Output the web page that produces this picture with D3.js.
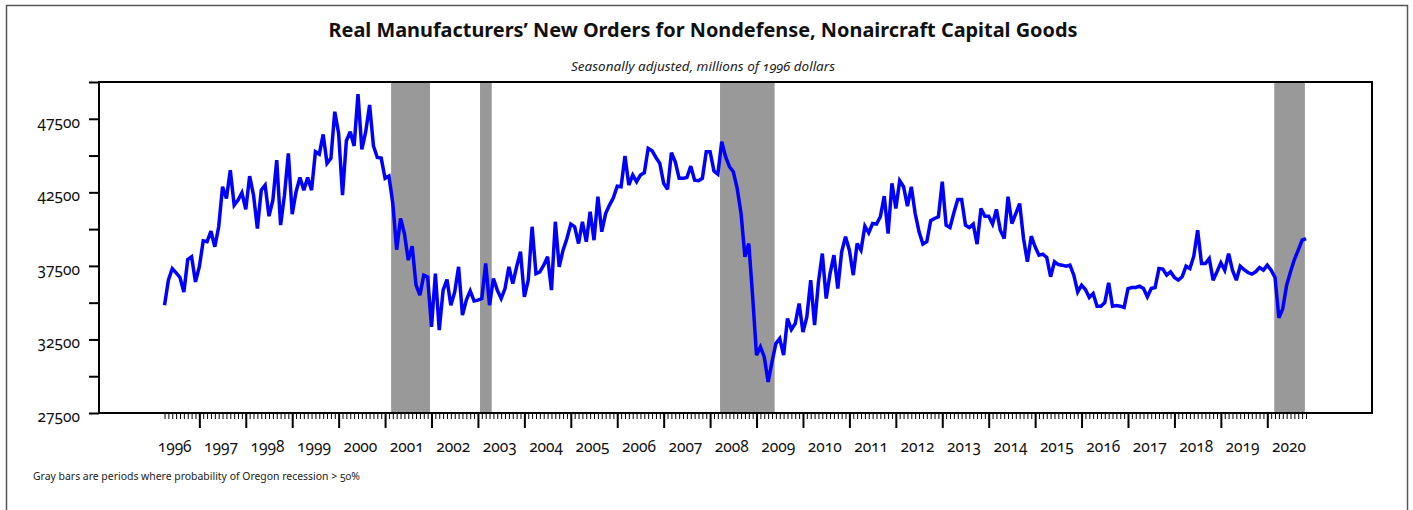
<!DOCTYPE html>
<html><head><meta charset="utf-8">
<script src="https://cdn.jsdelivr.net/npm/d3@7"></script>
<style>
body{margin:0;background:#fff;}
svg text{font-family:"Noto Sans",sans-serif;font-variant-numeric:oldstyle-nums;font-feature-settings:"onum" 1;}
</style></head>
<body>
<svg id="chart" width="1413" height="510"></svg>
<script>
// ---- data ----
const titleText = "Real Manufacturers\u2019 New Orders for Nondefense, Nonaircraft Capital Goods";
const subtitleText = "Seasonally adjusted, millions of 1996 dollars";
const noteText = "Gray bars are periods where probability of Oregon recession > 50%";

const startYear = 1996;      // first observation: April 1996
const startMonth = 3;        // 0 = January
const orders = [
 34830,36530,37320,37030,36710,35730,37930,38120,36410,37440,39200,39140,
 39860,38800,40160,42880,42080,44010,41630,41970,42470,41340,43600,42310,
 40040,42650,42990,40880,41970,44690,40270,42310,45150,41020,42540,43510,
 42650,43510,42650,45260,45100,46440,44470,44810,47980,46510,42310,46010,
 46620,45650,49180,45420,46620,48440,45650,44870,44830,43450,43600,41740,
 38600,40720,39700,37890,38840,36190,35510,36870,36750,33350,36980,33130,
 35850,36570,34830,35730,37440,34150,35170,35800,35120,35170,35280,37660,
 34830,36640,35850,35280,35960,37440,36300,37440,38460,35390,36530,40160,
 36980,37100,37550,38120,35850,40500,37440,38570,39360,40340,40160,39020,
 40500,39140,41180,39250,42200,39820,41060,41630,42130,42920,42880,44970,
 42990,43670,43220,43670,43830,45490,45330,44870,44470,43110,42700,45190,
 44580,43450,43450,43510,44280,43330,43290,43450,45260,45260,43950,43740,
 45940,44920,44240,43900,42770,41060,38120,39020,35390,31430,31990,31310,
 29610,30970,32220,32560,31430,33920,33170,33580,34940,33010,34030,36530,
 33470,36410,38340,35280,36980,38230,35960,38460,39480,38570,36870,39020,
 38570,40200,39750,40380,40340,40840,42240,39700,43110,41400,43290,42880,
 41560,42880,41060,39820,38980,39140,40570,40720,40840,43220,40270,40110,
 41110,42020,42020,40270,40110,40340,38980,41400,40880,40880,40340,41340,
 39930,39360,42200,40380,41060,41740,39360,37780,39520,38800,38230,38300,
 38070,36760,37780,37590,37550,37480,37550,36870,35730,36190,35890,35350,
 35620,34760,34760,35010,36350,34760,34800,34760,34670,35960,36030,36030,
 36120,35960,35390,35960,36030,37320,37280,36870,37100,36710,36530,36760,
 37480,37320,38160,39930,37660,37660,38000,36530,37100,37710,37210,38340,
 37210,36530,37480,37250,37050,36940,37100,37390,37210,37550,37210,36710,
 33970,34600,36190,37100,37930,38570,39250,39360
];
// recession periods (fractional years)
const recessionStart = [2001.13, 2003.045, 2008.214, 2020.15];
const recessionEnd   = [2001.968, 2003.297, 2009.39, 2020.81];

const yTickValues = [27500,30000,32500,35000,37500,40000,42500,45000,47500,50000];
const yLabelValues = [27500,32500,37500,42500,47500];
const yearLabels = [1996,1997,1998,1999,2000,2001,2002,2003,2004,2005,2006,2007,2008,
                    2009,2010,2011,2012,2013,2014,2015,2016,2017,2018,2019,2020];
const yearTicks = [1997,1998,1999,2000,2001,2002,2003,2004,2005,2006,2007,2008,
                   2009,2010,2011,2012,2013,2014,2015,2016,2017,2018,2019,2020];

// ---- layout ----
const svg = d3.select("#chart");
const L = 99, R = 1372, T = 82, B = 413;
const x = d3.scaleLinear().domain([1994.839, 2022.255]).range([L, R]);
const y = d3.scaleLinear().domain([27500, 50000]).range([B, T]);
const tOf = i => startYear + (startMonth + i) / 12;

// outer frame
svg.append("rect").attr("x",6.5).attr("y",5.5).attr("width",1401).attr("height",530)
   .attr("fill","none").attr("stroke","#555").attr("stroke-width",1.5);

// title
svg.append("text").attr("x",703).attr("y",37).attr("text-anchor","middle")
   .attr("font-size",19.5).attr("font-weight","bold").attr("fill","#111")
   .attr("textLength",749).attr("lengthAdjust","spacingAndGlyphs").text(titleText);
svg.append("text").attr("x",703).attr("y",71).attr("text-anchor","middle")
   .attr("font-size",12).attr("font-style","italic").attr("fill","#222")
   .attr("textLength",264).attr("lengthAdjust","spacingAndGlyphs").text(subtitleText);

// recession bars
svg.append("g").selectAll("rect").data(recessionStart).join("rect")
   .attr("x", (d,i) => x(d)).attr("width", (d,i) => x(recessionEnd[i]) - x(d))
   .attr("y", T).attr("height", B - T).attr("fill", "#999999");

// line
const line = d3.line().x((d,i) => x(tOf(i))).y(d => y(d));
svg.append("path").datum(orders).attr("d", line)
   .attr("fill","none").attr("stroke","#0000ff").attr("stroke-width",3.5)
   .attr("stroke-linejoin","miter").attr("stroke-miterlimit",3);

// plot frame
svg.append("rect").attr("x",L).attr("y",T).attr("width",R-L).attr("height",B-T)
   .attr("fill","none").attr("stroke","#000").attr("stroke-width",2);

// y axis
const yAxis = d3.axisLeft(y).tickValues(yTickValues).tickSize(10).tickPadding(9)
   .tickFormat(d => yLabelValues.includes(d) ? String(d) : "");
const gy = svg.append("g").attr("transform",`translate(${L},0)`).call(yAxis);
gy.select(".domain").remove();
gy.selectAll(".tick line").attr("stroke","#000").attr("stroke-width",2);
gy.selectAll(".tick text").attr("font-size",15.5).attr("fill","#111").attr("dy","0.55em")
   .attr("font-family",null);

// x axis: monthly minor ticks
const monthT = orders.map((d,i) => tOf(i));
const xMinor = d3.axisBottom(x).tickValues(monthT).tickSize(6).tickFormat("");
const gxm = svg.append("g").attr("transform",`translate(0,${B})`).call(xMinor);
gxm.select(".domain").remove();
gxm.selectAll(".tick line").attr("stroke","#000").attr("stroke-width",1);

// x axis: year ticks
const xMajor = d3.axisBottom(x).tickValues(yearTicks).tickSize(15).tickFormat("");
const gxM = svg.append("g").attr("transform",`translate(0,${B})`).call(xMajor);
gxM.select(".domain").remove();
gxM.selectAll(".tick line").attr("stroke","#000").attr("stroke-width",2);

// year labels (centered in each year)
const xLab = d3.axisBottom(x.copy().domain(x.domain().map(v => v - 0.5 + 2/46.43)))
   .tickValues(yearLabels).tickSize(0).tickPadding(28).tickFormat(d => String(d));
const gxl = svg.append("g").attr("transform",`translate(0,${B})`).call(xLab);
gxl.select(".domain").remove();
gxl.selectAll(".tick text").attr("font-size",15.5).attr("fill","#111").attr("font-family",null);

// footnote
svg.append("text").attr("x",33).attr("y",480).attr("font-size",10).attr("fill","#222")
   .attr("textLength",327).attr("lengthAdjust","spacingAndGlyphs").text(noteText);
</script>
</body></html>
